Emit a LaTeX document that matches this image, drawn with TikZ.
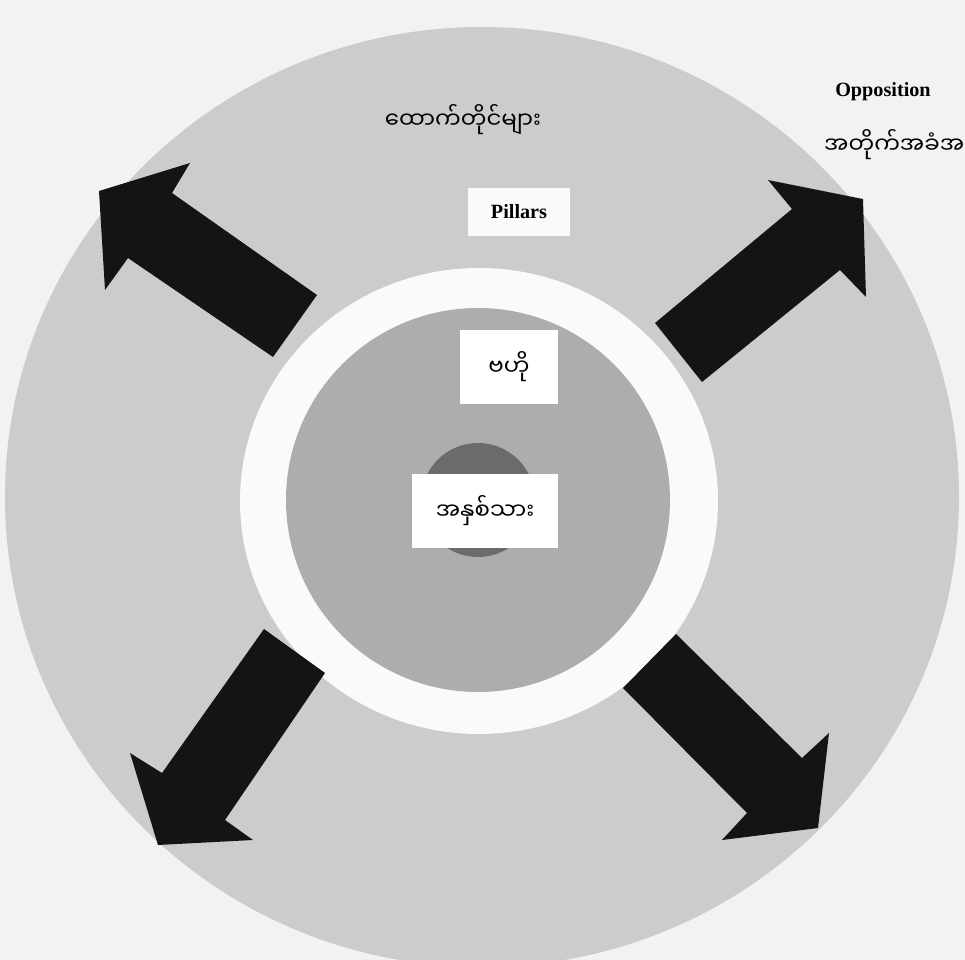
\documentclass[tikz,border=0pt]{standalone}
\usepackage{fontspec}
\setmainfont{Liberation Serif}
\newfontfamily\mmfont[Script=Myanmar]{Noto Sans Myanmar UI}
\usetikzlibrary{positioning}
\definecolor{paper}{gray}{0.95}
\definecolor{outerring}{gray}{0.80}
\definecolor{innerdisc}{gray}{0.68}
\definecolor{coredisc}{gray}{0.42}
\definecolor{gapring}{gray}{0.98}

\begin{document}
\begin{tikzpicture}[
    x=0.02cm, y=-0.02cm,
    engtext/.style={font=\bfseries\fontsize{11.5}{13}\selectfont},
    mmtext/.style={font=\mmfont\fontsize{13}{16}\selectfont},
    whitebox/.style={fill=white, inner sep=0pt, align=center},
    blockarrow/.style={fill=black!92}
  ]
  \useasboundingbox (0,0) rectangle (965,960);
  \clip (0,0) rectangle (965,960);
  \fill[paper] (0,0) rectangle (965,960);

  % rings
  \fill[outerring] (482,497) ellipse (477 and 470);
  \fill[gapring] (479,501) ellipse (239 and 233);
  \fill[innerdisc] (478,500) circle (192);
  \fill[coredisc] (478,500) circle (57);

  % arrows
  \fill[blockarrow] (273,357) -- (317,295) -- (172,193) -- (190,163)
    -- (99,191) -- (105,290) -- (128,258) -- cycle;
  \fill[blockarrow] (655,323) -- (792,209) -- (768,180) -- (863,199)
    -- (866,297) -- (840,270) -- (702,382) -- cycle;
  \fill[blockarrow] (264,629) -- (162,773) -- (130,753) -- (158,845)
    -- (253,840) -- (225,820) -- (325,673) -- cycle;
  \fill[blockarrow] (676,634) -- (802,758) -- (829,733) -- (818,828)
    -- (722,840) -- (747,813) -- (623,688) -- cycle;

  % texts
  \node[mmtext] (pillarsmm) at (463,120) {ထောက်တိုင်များ};
  \node[engtext, whitebox, fill=gray!4, minimum width=2.06cm,
    minimum height=0.98cm] (pillars) at (519,212) {Pillars};
  \node[engtext] (opposition) at (883,92) {Opposition};
  \node[mmtext, anchor=west] (oppositionmm) at (818,145) {အတိုက်အခံအင်အားစုများ};

  \node[mmtext, whitebox, minimum width=1.96cm,
    minimum height=1.48cm] (centre) at (509,367) {ဗဟို};
  \node[mmtext, whitebox, minimum width=2.92cm,
    minimum height=1.48cm] (core) at (485,511) {အနှစ်သား};
\end{tikzpicture}
\end{document}
